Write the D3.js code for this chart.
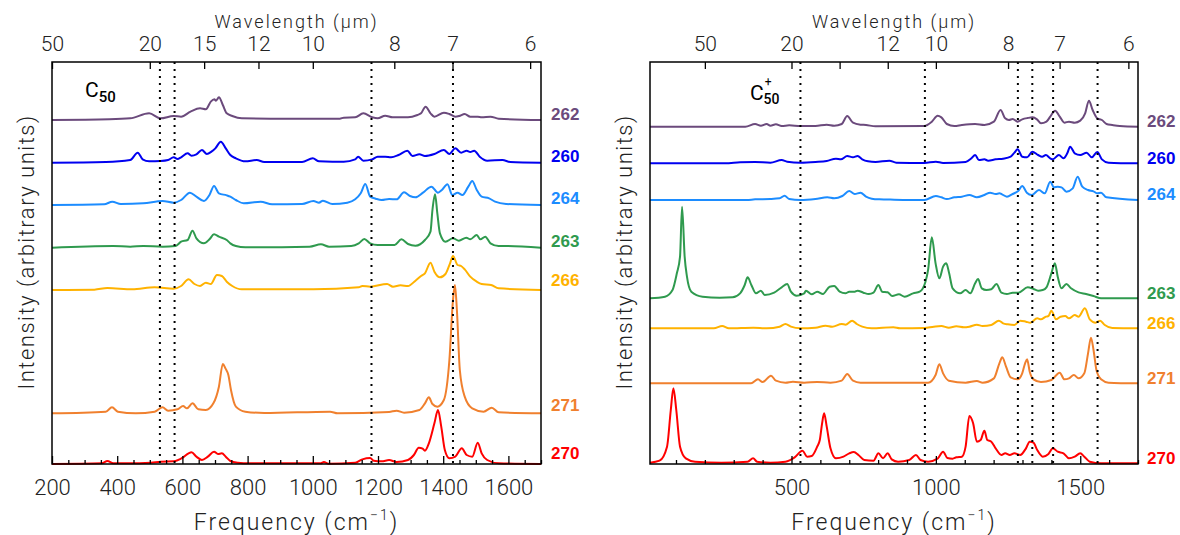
<!DOCTYPE html>
<html><head><meta charset="utf-8">
<script src="https://cdn.jsdelivr.net/npm/d3@7"></script>
<style>
body{margin:0;background:#fff}
svg{display:block}
</style>
</head><body>
<svg id="chart" width="1180" height="535"></svg>
<script>
// ---------------- DATA ----------------
const seriesIds = ["262", "260", "264", "263", "266", "271", "270"];

// Left panel: C50  ([frequency cm^-1, intensity arb. units])
const c50_262 = [[200,0],[376,2],[440,5],[498,20],[533,5],[573,12],[596,10],[625,25],[654,35],[672,32],[687,55],[698,62],[703,58],[712,68],[724,45],[736,20],[753,12],[782,5],[900,4],[1083,4],[1095,7],[1130,8],[1155,20],[1182,8],[1199,5],[1222,13],[1245,8],[1292,8],[1321,15],[1332,20],[1346,40],[1361,20],[1373,10],[1402,22],[1419,18],[1437,10],[1449,12],[1466,18],[1483,10],[1506,10],[1518,8],[1545,10],[1570,4],[1700,0]];
const c50_260 = [[200,0],[365,2],[440,8],[463,30],[478,10],[498,4],[533,5],[556,8],[573,16],[585,11],[596,16],[616,28],[628,21],[643,25],[660,38],[675,26],[689,33],[701,43],[718,63],[733,43],[747,23],[764,13],[793,4],[828,8],[851,2],[967,2],[1000,13],[1019,4],[1060,3],[1095,3],[1130,10],[1139,18],[1155,6],[1182,10],[1199,18],[1222,18],[1240,16],[1263,23],[1290,36],[1306,20],[1327,25],[1344,20],[1373,26],[1402,38],[1419,26],[1437,43],[1455,30],[1472,36],[1483,32],[1495,36],[1512,18],[1535,6],[1582,8],[1605,2],[1700,0]];
const c50_264 = [[200,0],[360,2],[385,10],[411,3],[480,5],[539,12],[573,7],[596,15],[623,37],[643,25],[666,12],[683,30],[697,57],[712,35],[736,29],[747,25],[764,15],[788,5],[840,10],[875,2],[967,3],[1002,12],[1019,7],[1031,13],[1060,3],[1106,7],[1130,17],[1147,35],[1161,63],[1176,25],[1193,19],[1211,15],[1234,18],[1257,17],[1280,38],[1298,27],[1315,23],[1338,37],[1364,55],[1384,37],[1396,45],[1413,62],[1428,30],[1444,37],[1459,30],[1477,55],[1489,72],[1503,45],[1518,25],[1541,20],[1559,10],[1593,3],[1700,0]];
const c50_263 = [[200,0],[388,5],[440,3],[480,5],[539,3],[579,5],[596,18],[616,23],[631,51],[643,28],[666,13],[683,25],[697,40],[712,33],[736,23],[747,13],[764,5],[793,1],[990,3],[1025,10],[1050,3],[1118,5],[1141,13],[1158,26],[1176,13],[1199,8],[1222,8],[1251,8],[1272,25],[1292,11],[1315,6],[1344,23],[1361,48],[1367,113],[1375,160],[1382,103],[1390,43],[1407,18],[1430,28],[1448,21],[1471,30],[1483,25],[1503,38],[1514,25],[1529,33],[1545,13],[1570,5],[1593,5],[1700,0]];
const c50_266 = [[200,0],[330,1],[370,6],[446,2],[515,8],[573,4],[596,12],[619,32],[637,18],[654,12],[672,22],[687,18],[706,45],[721,42],[736,25],[753,12],[782,2],[1002,2],[1141,8],[1152,12],[1176,10],[1228,18],[1246,10],[1269,14],[1292,12],[1315,28],[1332,42],[1344,50],[1361,82],[1373,55],[1390,38],[1407,48],[1421,80],[1430,102],[1444,75],[1455,72],[1466,62],[1483,40],[1503,25],[1518,18],[1547,15],[1570,5],[1700,0]];
const c50_271 = [[200,0],[365,5],[384,18],[402,5],[457,0],[515,5],[539,18],[556,8],[585,12],[602,22],[614,15],[631,30],[649,12],[672,10],[695,30],[712,80],[724,148],[732,135],[741,115],[749,70],[764,20],[793,5],[851,1],[1053,5],[1076,0],[1234,4],[1257,8],[1280,2],[1327,10],[1344,30],[1356,48],[1367,28],[1382,20],[1402,40],[1419,160],[1430,340],[1436,385],[1442,310],[1451,130],[1466,50],[1489,15],[1524,5],[1549,17],[1570,3],[1700,0]];
const c50_270 = [[200,0],[353,2],[370,9],[388,2],[434,2],[503,4],[533,7],[573,8],[602,20],[619,32],[628,35],[643,22],[660,12],[678,22],[697,37],[709,30],[721,32],[733,22],[747,9],[770,4],[805,2],[1025,2],[1034,6],[1048,1],[1130,4],[1152,14],[1176,18],[1187,10],[1211,8],[1234,12],[1257,6],[1292,12],[1310,27],[1325,49],[1337,46],[1344,40],[1356,62],[1373,122],[1384,162],[1394,112],[1405,42],[1419,17],[1437,22],[1457,47],[1472,27],[1489,22],[1506,64],[1518,32],[1535,12],[1570,2],[1700,0]];

// Right panel: C50+
const c50p_262 = [[10,0],[340,0],[374,8],[394,3],[414,8],[427,3],[446,7],[466,2],[492,4],[531,2],[583,2],[622,6],[648,3],[674,8],[693,32],[713,12],[739,6],[758,5],[791,1],[960,2],[986,15],[1006,33],[1019,28],[1038,8],[1064,2],[1090,5],[1136,8],[1168,5],[1201,15],[1224,50],[1240,25],[1253,20],[1266,23],[1283,15],[1299,22],[1318,26],[1335,28],[1350,22],[1364,10],[1383,15],[1396,30],[1413,48],[1429,30],[1445,12],[1461,15],[1481,12],[1500,18],[1517,40],[1530,78],[1543,50],[1559,25],[1575,20],[1591,8],[1611,5],[1637,2],[1700,0]];
const c50p_260 = [[10,0],[270,0],[322,3],[374,4],[427,2],[466,10],[485,5],[531,2],[583,4],[622,7],[654,14],[671,12],[693,22],[713,18],[729,22],[745,12],[765,6],[791,4],[839,8],[863,2],[960,1],[1000,5],[1025,1],[1103,4],[1123,15],[1136,25],[1149,10],[1168,12],[1181,8],[1207,12],[1233,14],[1259,20],[1272,32],[1283,42],[1299,20],[1316,18],[1334,35],[1354,25],[1368,20],[1381,25],[1396,15],[1405,12],[1426,25],[1442,15],[1455,30],[1465,50],[1481,30],[1500,25],[1522,32],[1540,18],[1559,34],[1575,12],[1598,2],[1700,0]];
const c50p_264 = [[10,0],[345,0],[374,2],[427,3],[459,5],[476,13],[492,3],[531,0],[583,3],[624,8],[648,5],[676,12],[700,27],[719,18],[739,22],[758,10],[778,4],[804,2],[856,1],[960,0],[1000,12],[1019,8],[1038,3],[1064,8],[1090,10],[1116,15],[1142,8],[1168,15],[1188,22],[1207,18],[1220,20],[1246,10],[1266,18],[1286,28],[1299,42],[1315,22],[1332,15],[1357,30],[1377,20],[1396,55],[1409,38],[1422,40],[1435,38],[1452,25],[1474,35],[1491,70],[1507,40],[1527,30],[1546,26],[1559,20],[1572,22],[1591,8],[1700,0]];
const c50p_263 = [[10,0],[62,5],[88,25],[103,75],[114,125],[121,275],[130,125],[138,65],[153,20],[192,5],[251,2],[296,3],[322,15],[338,40],[348,63],[361,40],[377,15],[394,23],[407,10],[440,17],[466,33],[485,43],[498,20],[518,8],[544,15],[550,23],[570,12],[589,20],[609,13],[632,35],[648,37],[667,20],[687,15],[700,20],[719,20],[729,23],[749,17],[768,13],[784,17],[801,40],[814,20],[833,18],[849,7],[872,12],[892,5],[921,15],[944,20],[964,50],[973,85],[986,183],[999,105],[1012,60],[1025,95],[1036,105],[1046,75],[1058,30],[1084,15],[1103,25],[1119,15],[1136,45],[1146,58],[1159,30],[1175,25],[1192,27],[1210,43],[1227,17],[1246,13],[1266,17],[1286,17],[1318,33],[1338,28],[1354,23],[1370,25],[1383,33],[1400,75],[1412,105],[1422,65],[1435,30],[1452,43],[1468,30],[1494,18],[1520,13],[1546,7],[1572,0],[1700,0]];
const c50p_266 = [[10,0],[231,0],[260,7],[283,0],[368,2],[414,0],[459,5],[479,13],[498,5],[531,0],[583,2],[618,8],[641,5],[674,13],[687,11],[710,23],[726,13],[745,5],[778,0],[853,3],[876,0],[960,1],[993,5],[1019,7],[1045,2],[1071,6],[1097,3],[1116,5],[1142,11],[1162,7],[1192,10],[1218,23],[1233,15],[1249,12],[1272,10],[1292,23],[1312,20],[1327,17],[1351,30],[1364,27],[1381,35],[1390,37],[1400,53],[1416,27],[1432,35],[1448,37],[1461,30],[1481,40],[1494,35],[1516,60],[1533,27],[1553,17],[1569,23],[1585,10],[1611,1],[1700,0]];
const c50p_271 = [[10,0],[360,0],[384,12],[400,4],[429,23],[446,8],[479,2],[505,5],[544,2],[589,4],[635,2],[674,8],[693,28],[713,8],[739,2],[973,2],[999,25],[1012,57],[1025,30],[1045,8],[1103,2],[1142,7],[1162,2],[1201,15],[1220,60],[1230,78],[1243,50],[1259,18],[1283,12],[1299,30],[1309,60],[1316,72],[1325,35],[1338,12],[1364,4],[1400,10],[1429,32],[1445,12],[1461,15],[1478,25],[1494,15],[1514,30],[1527,90],[1537,137],[1546,100],[1556,40],[1572,12],[1598,2],[1700,0]];
const c50p_270 = [[10,2],[43,8],[69,50],[82,160],[91,225],[101,160],[114,50],[134,15],[166,5],[257,2],[348,5],[367,15],[381,5],[427,2],[479,5],[511,18],[538,38],[554,20],[570,22],[589,50],[598,70],[606,120],[613,150],[622,110],[635,45],[654,15],[680,20],[700,30],[716,34],[732,25],[752,10],[784,8],[801,30],[817,15],[833,30],[847,12],[869,5],[908,10],[931,25],[947,10],[973,5],[1006,14],[1025,35],[1040,16],[1058,14],[1071,18],[1090,20],[1103,50],[1116,142],[1129,120],[1142,65],[1155,70],[1168,98],[1178,70],[1192,65],[1207,45],[1227,25],[1240,30],[1256,25],[1272,30],[1292,25],[1312,45],[1325,65],[1338,62],[1351,40],[1370,20],[1390,28],[1405,45],[1422,35],[1442,30],[1461,15],[1481,20],[1500,30],[1514,20],[1533,5],[1572,0],[1700,0]];

// vertical offsets of each spectrum (same order as seriesIds)
const c50Offsets  = [1032, 904, 777, 649, 522, 152, 0];
const c50pOffsets = [1012, 902, 792, 497, 407, 242, 2];

// dotted reference lines (cm^-1)
const c50Lines  = [531, 576, 1180, 1430];
const c50pLines = [531, 962, 1284, 1334, 1406, 1560];

// tick values
const c50FreqTicks   = [200, 400, 600, 800, 1000, 1200, 1400, 1600];
const c50pFreqTicks  = [500, 1000, 1500];
const c50WaveTicks   = [50, 20, 15, 12, 10, 8, 7, 6];
const c50WaveLabels  = ["50", "20", "15", "12", "10", "8", "7", "6"];
const c50pWaveTicks  = [50, 20, 15, 12, 10, 8, 7, 6];
const c50pWaveLabels = ["50", "20", "", "12", "10", "8", "7", "6"];

// ---------------- STYLE / LAYOUT ----------------
const colors = {"262":"#6b4a7c","260":"#0000f0","264":"#1c8cff","263":"#2f9a4e","266":"#ffb200","271":"#f0802e","270":"#ff0000"};
const FONT = "Roboto, 'Open Sans', sans-serif";
const svg = d3.select("#chart");

const panels = [
  {x0:52, x1:541, domain:[200,1700], data:[c50_262,c50_260,c50_264,c50_263,c50_266,c50_271,c50_270],
   offsets:c50Offsets, lines:c50Lines, freqTicks:c50FreqTicks, minorStep:50,
   waveTicks:c50WaveTicks, waveLabels:c50WaveLabels, labelX:551,
   labelNudge:[-4,-5,-5,-5,-8,-7,-9], plus:false},
  {x0:650, x1:1138, domain:[10,1700], data:[c50p_262,c50p_260,c50p_264,c50p_263,c50p_266,c50p_271,c50p_270],
   offsets:c50pOffsets, lines:c50pLines, freqTicks:c50pFreqTicks, minorStep:100,
   waveTicks:c50pWaveTicks, waveLabels:c50pWaveLabels, labelX:1147,
   labelNudge:[-4,-4,-4,-4,-4,-4,-4], plus:true}
];
const yTop = 62, yBot = 464;

panels.forEach(p => {
  const x = d3.scaleLinear().domain(p.domain).range([p.x0, p.x1]);
  const y = d3.scaleLinear().domain([0, 1206]).range([yBot, yTop]);
  const g = svg.append("g");

  // spectra
  p.data.forEach((d, i) => {
    const off = p.offsets[i];
    const line = d3.line().x(v => x(v[0])).y(v => y(v[1] + off)).curve(d3.curveMonotoneX);
    g.append("path").datum(d).attr("d", line).attr("fill","none")
      .attr("stroke", colors[seriesIds[i]]).attr("stroke-width", 2).attr("stroke-linejoin","round");
    g.append("text").attr("x", p.labelX).attr("y", y(off) + p.labelNudge[i])
      .attr("dominant-baseline","middle").attr("font-family","'Liberation Sans', Arial, sans-serif")
      .attr("font-weight","bold").attr("font-size", 17).attr("fill", colors[seriesIds[i]])
      .text(seriesIds[i]);
  });

  // dotted lines
  g.selectAll("line.dot").data(p.lines).enter().append("line")
    .attr("x1", d => x(d)).attr("x2", d => x(d)).attr("y1", yTop).attr("y2", yBot)
    .attr("stroke","#000").attr("stroke-width",2).attr("stroke-dasharray","2,5");

  // bottom axis
  const minor = d3.range(Math.ceil(p.domain[0]/p.minorStep)*p.minorStep, p.domain[1]+1, p.minorStep)
    .filter(v => !p.freqTicks.includes(v));
  const bMinor = svg.append("g").attr("transform", `translate(0,${yBot})`)
    .call(d3.axisBottom(x).tickValues(minor).tickSize(-4).tickFormat(""));
  const bMajor = svg.append("g").attr("transform", `translate(0,${yBot})`)
    .call(d3.axisBottom(x).tickValues(p.freqTicks).tickSize(-8).tickPadding(15).tickFormat(d3.format("d")));
  [bMinor, bMajor].forEach(a => { a.select(".domain").remove(); a.selectAll("line").attr("stroke","#000").attr("stroke-width",1.3); });
  bMajor.selectAll("text").attr("font-family", FONT).attr("font-weight",300).attr("font-size",22).attr("fill","#222");

  // top axis (wavelength)
  const tFreq = p.waveTicks.map(w => 1e4 / w);
  const tAxis = svg.append("g").attr("transform", `translate(0,${yTop})`)
    .call(d3.axisTop(x).tickValues(tFreq).tickSize(-7).tickPadding(11)
      .tickFormat((f, i) => p.waveLabels[i]));
  tAxis.select(".domain").remove();
  tAxis.selectAll("line").attr("stroke","#000").attr("stroke-width",1.3);
  tAxis.selectAll("text").attr("font-family", FONT).attr("font-weight",300).attr("font-size",21).attr("fill","#222");

  // box
  svg.append("rect").attr("x", p.x0).attr("y", yTop).attr("width", p.x1 - p.x0).attr("height", yBot - yTop)
    .attr("fill","none").attr("stroke","#000").attr("stroke-width",1.5);

  const cx = (p.x0 + p.x1) / 2;
  // titles
  svg.append("text").attr("x", cx).attr("y", 28).attr("text-anchor","middle")
    .attr("font-family", FONT).attr("font-weight",300).attr("font-size",18).attr("letter-spacing",2).attr("fill","#222")
    .text("Wavelength (\u03BCm)");
  const ft = svg.append("text").attr("x", cx).attr("y", 530).attr("text-anchor","middle")
    .attr("font-family", FONT).attr("font-weight",300).attr("font-size",23).attr("letter-spacing",2).attr("fill","#222");
  ft.append("tspan").text("Frequency (cm");
  ft.append("tspan").attr("font-size",14).attr("dy",-10).text("\u22121");
  ft.append("tspan").attr("dy",10).text(")");
  svg.append("text").attr("transform", `translate(${p.x0 - 26},252) rotate(-90)`).attr("text-anchor","middle")
    .attr("dominant-baseline","central").attr("font-family", FONT).attr("font-weight",300).attr("font-size",22)
    .attr("letter-spacing",1.5).attr("fill","#222").text("Intensity (arbitrary units)");

  // molecule label (single text element: C, optional superscript +, subscript 50)
  const lx = p.plus ? 750 : 85;
  const ml = svg.append("text").attr("x", lx).attr("y", p.plus ? 100 : 97).attr("font-family", FONT)
    .attr("font-size", 21).attr("fill","#000");
  ml.append("tspan").text("C");
  if (p.plus) {
    ml.append("tspan").attr("font-size", 12).attr("dy", -14).attr("dx", 1).text("+");
    ml.append("tspan").attr("font-size", 14).attr("font-weight", 500).attr("dx", -8).attr("dy", 18).text("50");
  } else {
    ml.append("tspan").attr("font-size", 15).attr("font-weight", 500).attr("dy", 5).text("50");
  }
});
</script>
</body></html>
